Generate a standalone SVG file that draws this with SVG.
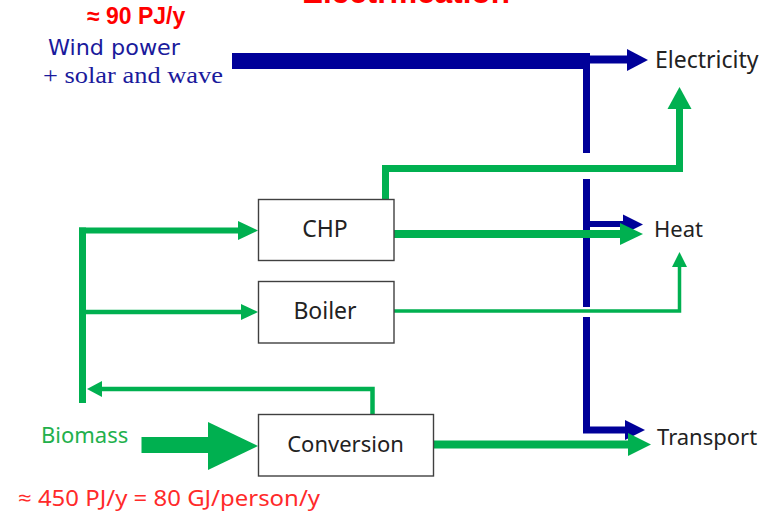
<svg xmlns="http://www.w3.org/2000/svg" width="778" height="515" viewBox="0 0 778 515">
  <style>
    .box { fill: #ffffff; stroke: #404040; stroke-width: 1.4; }
    .lbl { font-family: "Noto Sans", "Open Sans", sans-serif; font-size: 22px; fill: #222222; }
    .blue { fill: none; stroke: #000099; stroke-linejoin: miter; stroke-linecap: butt; }
    .blueF { fill: #000099; }
    .green { fill: none; stroke: #00b050; stroke-linejoin: miter; stroke-linecap: butt; }
    .greenF { fill: #00b050; }
  </style>
  <rect width="778" height="515" fill="#ffffff"/>

  <g id="title">
    <text x="302" y="3" font-family="Liberation Sans, Arial, sans-serif" font-weight="bold" font-size="31" fill="#ff0000" textLength="208" lengthAdjust="spacingAndGlyphs">Electrification</text>
  </g>

  <g id="wind">
    <text x="87" y="24" font-family="Liberation Sans, Arial, sans-serif" font-weight="bold" font-size="23" fill="#ff0000">≈ 90 PJ/y</text>
    <text x="48" y="55" font-family="DejaVu Sans, sans-serif" font-size="21" fill="#1a1a9c" textLength="132" lengthAdjust="spacingAndGlyphs">Wind power</text>
    <text x="43" y="83" font-family="Liberation Serif, Times New Roman, serif" font-size="24" fill="#1a1a9c" textLength="180" lengthAdjust="spacingAndGlyphs">+ solar and wave</text>
  </g>

  <g id="biomass">
    <text x="41" y="443" class="lbl" style="fill:#22b04c">Biomass</text>
    <text x="18" y="506" font-family="Noto Sans, Open Sans, sans-serif" font-size="22" fill="#ff2a2a" textLength="302" lengthAdjust="spacingAndGlyphs">≈ 450 PJ/y = 80 GJ/person/y</text>
  </g>

  <g id="connectors">
    <!-- blue electricity network -->
    <rect class="blueF" x="232" y="53" width="355" height="16"/>
    <line class="blue" x1="586" y1="59.5" x2="629" y2="59.5" stroke-width="8"/>
    <polygon class="blueF" points="627,49 648,60 627,71"/>
    <line class="blue" x1="586.5" y1="53" x2="586.5" y2="153" stroke-width="7"/>
    <line class="blue" x1="586.5" y1="179" x2="586.5" y2="307" stroke-width="7"/>
    <path class="blue" d="M586.5,224 H625" stroke-width="6"/>
    <polygon class="blueF" points="623,214.5 643,224.5 623,234.5"/>
    <path class="blue" d="M586.5,317 V430 H628" stroke-width="7"/>
    <polygon class="blueF" points="625,420 645,430 625,440"/>

    <!-- biomass distribution -->
    <line class="green" x1="82.5" y1="227.5" x2="82.5" y2="403" stroke-width="7"/>
    <path class="green" d="M79,230.5 H240" stroke-width="6"/>
    <polygon class="greenF" points="238,221 258,230.5 238,240"/>
    <path class="green" d="M82.5,312 H243" stroke-width="4.5"/>
    <polygon class="greenF" points="241,304 258,312 241,320"/>
    <path class="green" d="M372.5,414 V389 H100" stroke-width="4.5"/>
    <polygon class="greenF" points="102,381 87,389 102,397"/>

    <!-- biomass input -->
    <rect class="greenF" x="141.5" y="437" width="68" height="16"/>
    <polygon class="greenF" points="208,422 258,446 208,470"/>

    <!-- outputs -->
    <path class="green" d="M385.5,199 V168.5 H679.5 V107" stroke-width="7"/>
    <polygon class="greenF" points="667.5,109 679.5,87 691.5,109"/>
    <path class="green" d="M394,234 H622" stroke-width="8"/>
    <polygon class="greenF" points="620,223 643,234 620,245"/>
    <path class="green" d="M394,311 H679.5 V265" stroke-width="3.5"/>
    <polygon class="greenF" points="672,267 679.5,252 687,267"/>
    <path class="green" d="M433,444.5 H630" stroke-width="8"/>
    <polygon class="greenF" points="628,433 651,444.5 628,456"/>
  </g>

  <g id="chp">
    <rect class="box" x="258.5" y="199.5" width="135.5" height="61"/>
    <text class="lbl" x="325" y="237" text-anchor="middle" style="font-size:23px">CHP</text>
  </g>
  <g id="boiler">
    <rect class="box" x="258.5" y="281.5" width="135.5" height="61.5"/>
    <text class="lbl" x="325" y="319" text-anchor="middle" style="font-size:23px">Boiler</text>
  </g>
  <g id="conversion">
    <rect class="box" x="258.5" y="414.5" width="175" height="61.5"/>
    <text class="lbl" x="345.5" y="452" text-anchor="middle">Conversion</text>
  </g>

  <g id="electricity">
    <text class="lbl" x="655" y="68" style="font-size:23px">Electricity</text>
  </g>
  <g id="heat">
    <text class="lbl" x="654" y="237">Heat</text>
  </g>
  <g id="transport">
    <text class="lbl" x="657" y="445">Transport</text>
  </g>
</svg>
